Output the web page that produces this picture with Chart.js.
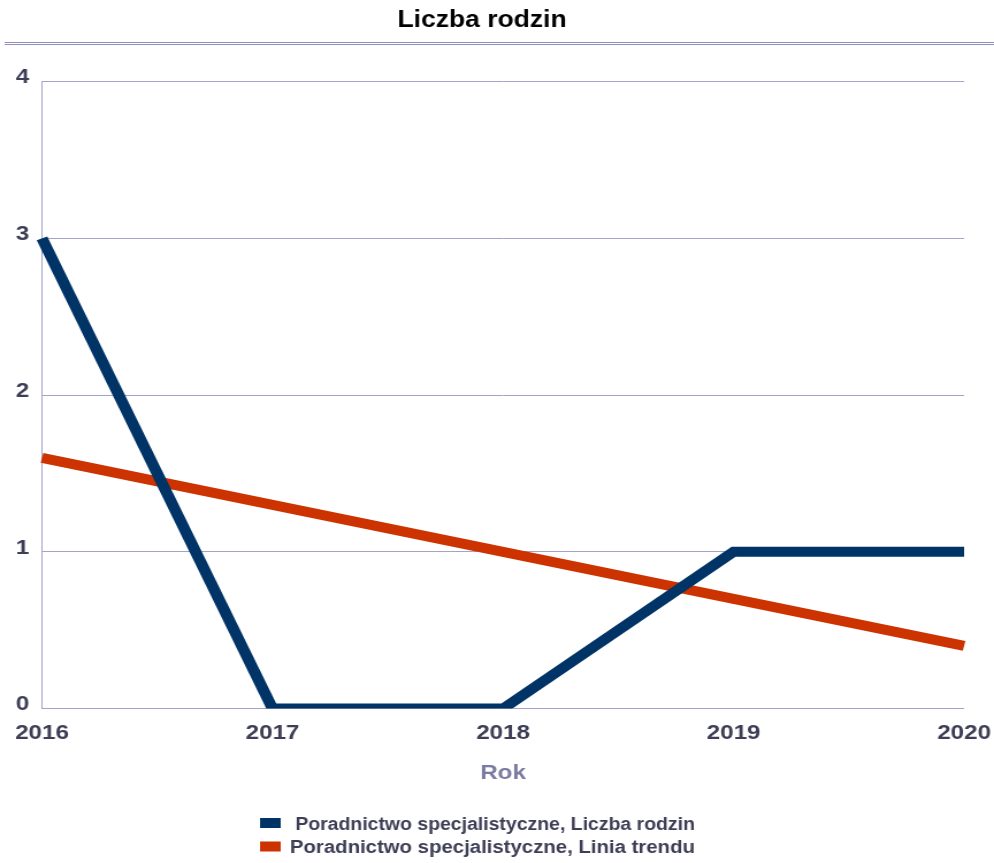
<!DOCTYPE html>
<html>
<head>
<meta charset="utf-8">
<title>Liczba rodzin</title>
<script src="https://cdn.jsdelivr.net/npm/chart.js@4/dist/chart.umd.min.js"></script>
<style>
  html, body { margin: 0; padding: 0; background: #fff; }
</style>
</head>
<body>
<!-- the reference is a horizontally stretched picture, so the canvas is drawn narrower and stretched back -->
<canvas id="chart" width="864" height="863" style="width:994px;height:863px;display:block"></canvas>
<script>
const years = ['2016', '2017', '2018', '2019', '2020'];
const liczbaRodzin = [3, 0, 0, 1, 1];
const liniaTrendu = [1.6, 1.3, 1.0, 0.7, 0.4];
const yTicks = [0, 1, 2, 3, 4];

const FONT = '"Liberation Sans", Arial, sans-serif';
const TEXT = '#3d3d55';
const GRID = '#a4a4c8';

// double rule under the title
const titleRule = {
    id: 'titleRule',
    beforeDraw(chart) {
        const ctx = chart.ctx;
        ctx.save();
        ctx.fillStyle = '#9090bc';
        ctx.fillRect(4, 42, chart.width - 4, 1);
        ctx.fillRect(4, 44, chart.width - 4, 1);
        ctx.restore();
    }
};

// two-row legend under the axis title
const rowLegend = {
    id: 'rowLegend',
    afterDraw(chart) {
        const ctx = chart.ctx;
        const left = 226;
        ctx.save();
        ctx.font = 'bold 18px ' + FONT;
        ctx.textBaseline = 'middle';
        ctx.textAlign = 'left';
        chart.data.datasets.forEach((ds, i) => {
            const y = 824 + i * 23.5;
            ctx.fillStyle = ds.borderColor;
            ctx.fillRect(left, y - 6, 18, 10);
            ctx.fillStyle = TEXT;
            ctx.fillText(ds.label, left + 26, y + 1, 352);
        });
        ctx.restore();
    }
};

new Chart(document.getElementById('chart'), {
    type: 'line',
    data: {
        labels: years,
        datasets: [{
            label: ' Poradnictwo specjalistyczne, Liczba rodzin',
            data: liczbaRodzin,
            borderColor: '#003366',
            borderWidth: 10,
            borderJoinStyle: 'miter',
            borderCapStyle: 'butt',
            pointRadius: 0,
            tension: 0
        }, {
            label: 'Poradnictwo specjalistyczne, Linia trendu',
            data: liniaTrendu,
            borderColor: '#cc3300',
            borderWidth: 10,
            borderCapStyle: 'butt',
            pointRadius: 0,
            tension: 0
        }]
    },
    options: {
        responsive: false,
        devicePixelRatio: 1,
        animation: false,
        layout: { padding: { left: 0, right: 26, top: 0, bottom: 77 } },
        plugins: {
            legend: { display: false },
            tooltip: { enabled: false },
            title: {
                display: true,
                text: 'Liczba rodzin',
                color: '#000',
                font: { family: FONT, size: 23, weight: 'bold', lineHeight: 1.2 },
                padding: { top: 7, bottom: 47 }
            }
        },
        scales: {
            x: {
                offset: false,
                afterFit(scale) {
                    scale.paddingLeft = 0;
                    scale.paddingRight = 0;
                },
                grid: { display: false, drawTicks: false },
                border: { display: false },
                ticks: {
                    color: TEXT,
                    padding: 12,
                    maxRotation: 0,
                    autoSkip: false,
                    font: { family: FONT, size: 21, weight: 'bold', lineHeight: 1.2 }
                },
                title: {
                    display: true,
                    text: 'Rok',
                    color: '#7a7aa2',
                    padding: { top: 3, bottom: 0 },
                    font: { family: FONT, size: 21, weight: 'bold', lineHeight: 1.2 }
                }
            },
            y: {
                min: 0,
                max: 4,
                afterBuildTicks(scale) {
                    scale.ticks = yTicks.map(v => ({ value: v }));
                },
                afterFit(scale) {
                    scale.width = 36.5;
                },
                grid: { color: GRID, lineWidth: 1, drawTicks: false },
                border: { display: true, color: GRID, width: 1 },
                ticks: {
                    color: TEXT,
                    padding: 11,
                    labelOffset: -4,
                    font: { family: FONT, size: 21, weight: 'bold', lineHeight: 1.2 }
                }
            }
        }
    },
    plugins: [titleRule, rowLegend]
});
</script>
</body>
</html>
